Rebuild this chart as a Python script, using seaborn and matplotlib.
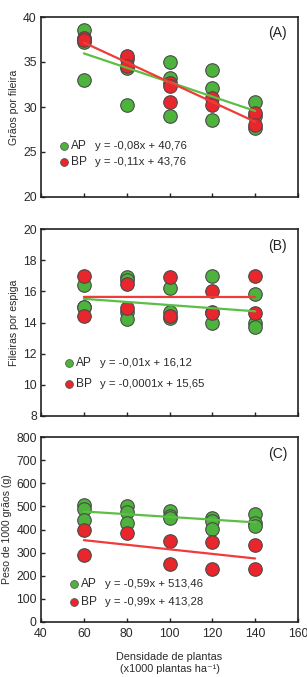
import numpy as np
import pandas as pd
import matplotlib
matplotlib.use("Agg")
import matplotlib.pyplot as plt
import seaborn as sns

# ---------------- data ----------------
# Panel A: Grãos por fileira
a_ap_x = [60, 60, 60, 60, 80, 80, 80, 100, 100, 100, 120, 120, 120, 140, 140, 140]
a_ap_y = [38.5, 37.5, 37.2, 33.0, 35.3, 34.3, 30.2, 35.0, 33.2, 29.0, 34.1, 32.1, 28.5, 30.6, 29.0, 27.7]
a_bp_x = [60, 60, 80, 80, 100, 100, 100, 120, 120, 140, 140]
a_bp_y = [37.7, 37.4, 35.7, 34.5, 32.7, 32.3, 30.5, 31.0, 30.2, 29.3, 28.0]

# Panel B: Fileiras por espiga
b_ap_x = [60, 60, 60, 80, 80, 80, 80, 100, 100, 100, 120, 120, 120, 140, 140, 140]
b_ap_y = [16.4, 15.0, 15.0, 16.9, 16.7, 14.7, 14.2, 16.2, 14.7, 14.3, 17.0, 14.7, 14.0, 15.8, 14.0, 13.7]
b_bp_x = [60, 60, 80, 80, 100, 100, 120, 120, 140, 140]
b_bp_y = [17.0, 14.4, 16.5, 14.9, 16.9, 14.4, 16.0, 14.6, 17.0, 14.6]

# Panel C: Peso de 1000 grãos (g)
c_ap_x = [60, 60, 60, 80, 80, 80, 100, 100, 100, 120, 120, 120, 140, 140, 140]
c_ap_y = [508, 490, 440, 503, 474, 428, 478, 458, 448, 450, 437, 404, 466, 430, 414]
c_bp_x = [60, 60, 80, 100, 100, 120, 120, 140, 140]
c_bp_y = [400, 288, 384, 352, 250, 344, 231, 331, 231]

# regression coefficients (slope, intercept)
coef_a = {"AP": (-0.08, 40.76), "BP": (-0.11, 43.76)}
coef_b = {"AP": (-0.01, 16.12), "BP": (-0.0001, 15.65)}
coef_c = {"AP": (-0.59, 513.46), "BP": (-0.99, 413.28)}

eq_a = {"AP": "y = -0,08x + 40,76", "BP": "y = -0,11x + 43,76"}
eq_b = {"AP": "y = -0,01x + 16,12", "BP": "y = -0,0001x + 15,65"}
eq_c = {"AP": "y = -0,59x + 513,46", "BP": "y = -0,99x + 413,28"}

x_ticks = [40, 60, 80, 100, 120, 140, 160]
ylabels = ["Grãos por fileira", "Fileiras por espiga", "Peso de 1000 grãos (g)"]
panel_tags = ["(A)", "(B)", "(C)"]
ylims = [(20, 40), (8, 20), (0, 800)]
yticks = [[20, 25, 30, 35, 40], [8, 10, 12, 14, 16, 18, 20], list(range(0, 801, 100))]
xlabel_lines = ["Densidade de plantas", "(x1000 plantas ha⁻¹)"]

# ---------------- style ----------------
sns.set_theme(style="ticks")
plt.rcParams["font.family"] = ["Liberation Sans", "DejaVu Sans"]

green = "#4DB33D"
red = "#E8262B"
green_line = "#5CBF45"
red_line = "#F03B3B"
edge = "#4a4a4a"
text_col = "#2a2a2a"

fig = plt.figure(figsize=(3.07, 6.77), dpi=100)
L, R = 41 / 307, 298 / 307
boxes = [(17, 197), (229, 416), (437, 622)]
axes = []
for top, bot in boxes:
    ax = fig.add_axes([L, 1 - bot / 677, R - L, (bot - top) / 677])
    axes.append(ax)

def mkdf(ax_x, ax_y, bx, by):
    return pd.concat([
        pd.DataFrame({"x": ax_x, "y": ax_y, "g": "AP"}),
        pd.DataFrame({"x": bx, "y": by, "g": "BP"}),
    ], ignore_index=True)

dfs = [mkdf(a_ap_x, a_ap_y, a_bp_x, a_bp_y),
       mkdf(b_ap_x, b_ap_y, b_bp_x, b_bp_y),
       mkdf(c_ap_x, c_ap_y, c_bp_x, c_bp_y)]
coefs = [coef_a, coef_b, coef_c]
eqs = [eq_a, eq_b, eq_c]
leg_pos = [(0.09, 0.283, 0.194), (0.11, 0.283, 0.171), (0.13, 0.205, 0.108)]

for i, ax in enumerate(axes):
    df = dfs[i]
    sns.scatterplot(data=df[df.g == "AP"], x="x", y="y", color=green, s=95,
                    edgecolor=edge, linewidth=0.8, ax=ax, zorder=3, legend=False)
    sns.scatterplot(data=df[df.g == "BP"], x="x", y="y", color=red, s=95,
                    edgecolor=edge, linewidth=0.8, ax=ax, zorder=4, legend=False)
    xs = np.array([df.x.min(), df.x.max()])
    for g, col in (("AP", green_line), ("BP", red_line)):
        m, b = coefs[i][g]
        sns.lineplot(x=xs, y=m * xs + b, color=col, lw=1.6, ax=ax, zorder=5)
    ax.set_xlim(40, 160)
    ax.set_ylim(*ylims[i])
    ax.set_xticks(x_ticks)
    ax.set_yticks(yticks[i])
    ax.tick_params(direction="in", length=3, width=1, labelsize=8.8,
                   colors="#222222", labelcolor=text_col, pad=3)
    ax.tick_params(axis="x", pad=4)
    for s in ax.spines.values():
        s.set_linewidth(1.2)
        s.set_color("#222222")
    ax.set_ylabel(ylabels[i], fontsize=7.6, color=text_col, labelpad=3)
    ax.set_xlabel("")
    if i < 2:
        ax.set_xticklabels([])
    ax.text(0.92, 0.91, panel_tags[i], transform=ax.transAxes, fontsize=10,
            ha="center", va="center", color="#222222")
    mx, y1, y2 = leg_pos[i]
    for (g, col), yy in zip((("AP", green), ("BP", red)), (y1, y2)):
        ax.scatter([mx], [yy], transform=ax.transAxes, s=32, color=col,
                   edgecolor=edge, linewidth=0.5, zorder=6, clip_on=False)
        ax.text(mx + 0.025, yy, g, transform=ax.transAxes, fontsize=8.6,
                va="center", ha="left", color=text_col)
        ax.text(mx + 0.12, yy, eqs[i][g], transform=ax.transAxes, fontsize=8.2,
                va="center", ha="left", color=text_col)

fig.text(0.5 * (L + R), 1 - 657 / 677, xlabel_lines[0], ha="center",
         va="center", fontsize=7.8, color=text_col)
fig.text(0.5 * (L + R), 1 - 669 / 677, xlabel_lines[1], ha="center",
         va="center", fontsize=7.8, color=text_col)

fig.savefig("out.png", dpi=100)
